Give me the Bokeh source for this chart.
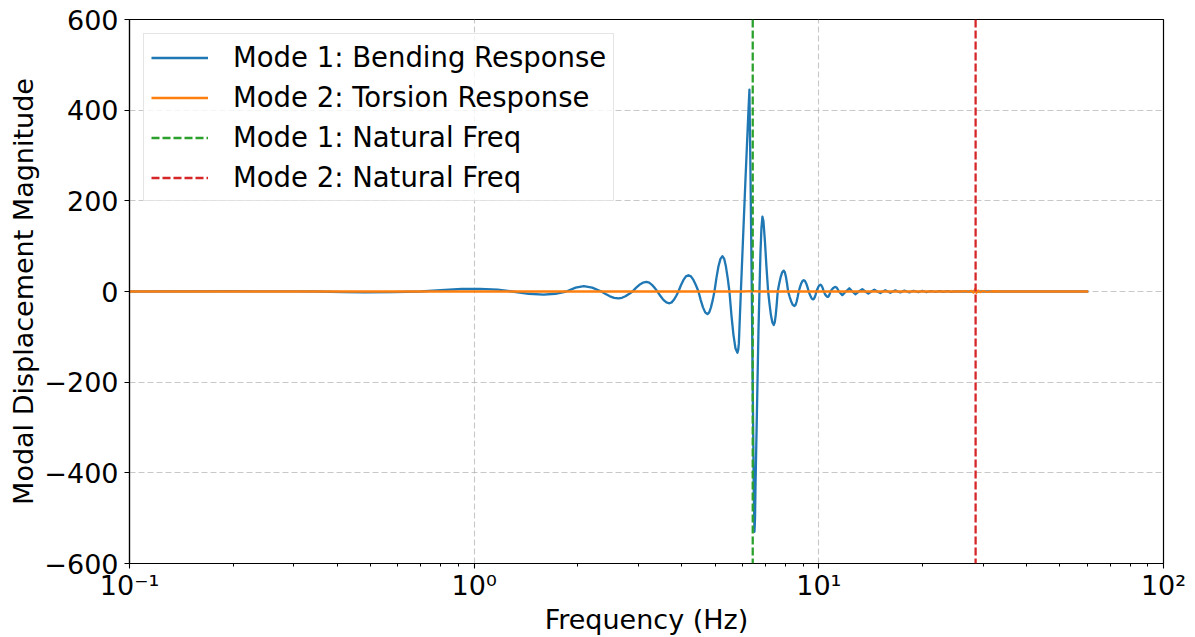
from bokeh.plotting import figure
from bokeh.models import Range1d, FixedTicker, Span, Legend, LegendItem, ColumnDataSource
from bokeh.embed import file_html
from bokeh.resources import INLINE

# ---------------- data ----------------
# Mode 1 bending response: frequency (Hz) and modal displacement
BENDING_FREQ = [
    0.1, 0.2, 0.3, 0.35, 0.42, 0.48, 0.58, 0.70, 0.80, 0.92, 1.04, 1.17, 1.29,
    1.44, 1.59, 1.72, 1.85, 1.97, 2.08, 2.20,
    2.340, 2.407, 2.477, 2.548, 2.622, 2.684, 2.747, 2.812,
    2.879, 2.947, 3.016, 3.087, 3.161, 3.220, 3.279, 3.340,
    3.402, 3.471, 3.540, 3.612, 3.685, 3.741, 3.797, 3.855,
    3.914, 3.980, 4.048, 4.116, 4.185, 4.255, 4.327, 4.400,
    4.475, 4.543, 4.612, 4.681, 4.752, 4.808, 4.864, 4.922,
    4.979, 5.046, 5.113, 5.182, 5.252, 5.314, 5.376, 5.439,
    5.503, 5.577, 5.652, 5.728, 5.806, 5.837, 5.86,
    5.94, 6.12, 6.25, 6.29, 6.33, 6.39, 6.44, 6.475, 6.505, 6.53, 6.55, 6.615, 6.68,
    6.725, 6.770, 6.815, 6.861, 6.907, 6.977, 7.047,
    7.127, 7.194, 7.261, 7.329, 7.398, 7.448, 7.498, 7.548,
    7.598, 7.675, 7.752, 7.830, 7.909, 7.967, 8.026, 8.085,
    8.145, 8.233, 8.319, 8.406, 8.496, 8.559, 8.619, 8.680,
    8.744, 8.816, 8.890, 8.965, 9.040, 9.116, 9.192, 9.269,
    9.347, 9.417, 9.487, 9.557, 9.627, 9.679, 9.734, 9.789,
    9.840, 9.906, 9.972, 10.04, 10.11, 10.164, 10.222, 10.280,
    10.335, 10.404, 10.474, 10.544, 10.615, 10.665, 10.711, 10.758,
    10.808, 10.899, 10.99, 11.082, 11.17, 11.237, 11.301, 11.366,
    11.435, 11.70, 11.98, 12.26, 12.51, 12.76, 13.06, 13.37, 13.64,
    13.92, 14.20, 14.49, 14.78, 15.08, 15.33, 15.59, 15.85, 16.12, 16.39,
    16.67, 16.95, 17.24, 17.47, 17.71, 18.01, 18.31, 18.56, 18.81, 19.12,
    19.45, 19.71, 19.98, 20.25, 20.52, 20.87, 21.22, 21.50, 21.79, 22.09,
    22.38, 22.68, 22.99, 23.30, 23.61, 23.93, 24.25, 24.58, 24.91, 26.0, 60.5,
]
BENDING_DISP = [
    0, 0.5, 0.3, 0, -1.5, -2, -1.5, 0, 3, 5.5, 6, 4, 0,
    -5, -7, -5, 0, 8.5, 12, 8.5,
    0, -5.7, -10.6, -13.9, -15, -13.9, -10.6, -5.7,
    0, 8.0, 14.8, 19.4, 21, 19.4, 14.8, 8.0,
    0, -10, -18.4, -24, -26, -24, -18.4, -10,
    0, 13.8, 25.5, 33.3, 36, 33.3, 25.5, 13.8,
    0, -19, -35, -46, -50, -46, -35, -19,
    0, 30, 55, 72, 78, 72, 55, 30,
    0, -52, -95, -125, -135, -128, -115,
    0, 240, 400, 445, 280, 0, -260, -440, -530, -500, -430, -260, -90,
    0, 85, 140, 165, 155, 110, 55,
    0, -28, -52, -68, -74, -68, -52, -28,
    0, 17.6, 32.5, 42.5, 46, 42.5, 32.5, 17.6,
    0, -12.2, -22.6, -29.6, -32, -29.6, -22.6, -12.2,
    0, 9.6, 17.7, 23.1, 25, 23.1, 17.7, 9.6,
    0, -6.7, -12.4, -16.2, -17.5, -16.2, -12.4, -6.7,
    0, 5.7, 10.6, 13.9, 15, 13.9, 10.6, 5.7,
    0, -4.6, -8.5, -11.1, -12, -11.1, -8.5, -4.6,
    0, 3.8, 7.1, 9.2, 10, 9.2, 7.1, 3.8,
    0, -8, 0, 7, 0, -6, 0, 5, 0,
    -4.5, 0, 4, 0, -3.5, 0, 3, 0, -3, 0,
    2.5, 0, -2, 0, 2, 0, -1.8, 0, 1.5, 0,
    -1.5, 0, 1.2, 0, -1.2, 0, 1, 0, -1, 0,
    0.8, 0, -0.8, 0, 0.6, 0, -0.6, 0, 0.4, 0, 0,
]
# Mode 2 torsion response
TORSION_FREQ = [0.1, 6.0, 6.4, 6.8, 25.76, 26.63, 27.2, 27.7, 28.1, 28.4,
                28.66, 29.04, 29.4, 30.0, 30.8, 31.9, 33.6, 60.5]
TORSION_DISP = [0, 0, 0.8, 0, 0, 0.8, -1, 1.5, -2.5, 5,
                -3, 2, -1.5, 1, -0.7, 0.5, 0, 0]
NATURAL_FREQS = [6.43, 28.5]

SERIES_LABELS = ["Mode 1: Bending Response", "Mode 2: Torsion Response",
                 "Mode 1: Natural Freq", "Mode 2: Natural Freq"]
X_TICKS = [0.1, 1, 10, 100]
X_TICK_LABELS = ["10\u207b\u00b9", "10\u2070", "10\u00b9", "10\u00b2"]
X_MINOR = [m * d for d in (0.1, 1, 10) for m in range(2, 10)]
Y_TICKS = [-600, -400, -200, 0, 200, 400, 600]
Y_TICK_LABELS = [("\u2212" + str(-v)) if v < 0 else str(v) for v in Y_TICKS]
X_LABEL = "Frequency (Hz)"
Y_LABEL = "Modal Displacement Magnitude"

# ---------------- styling ----------------
BLUE, ORANGE, GREEN, RED = "#1f77b4", "#ff7f0e", "#2ca02c", "#d62728"
FONT = "DejaVu Sans"
FS = "27px"
LW = 2.3

p = figure(width=1195, height=637, x_axis_type="log",
           x_range=Range1d(0.1, 100), y_range=Range1d(-600, 600),
           output_backend="svg", toolbar_location=None,
           min_border_left=129, min_border_right=32,
           min_border_top=19, min_border_bottom=72)

p.outline_line_color = "black"
p.outline_line_width = 1.2
p.outline_line_alpha = 1.0
p.background_fill_color = "white"
p.border_fill_color = "white"

# axes
p.xaxis.ticker = FixedTicker(ticks=X_TICKS, minor_ticks=X_MINOR)
p.yaxis.ticker = FixedTicker(ticks=Y_TICKS, minor_ticks=[])
p.xaxis.major_label_overrides = dict(zip(X_TICKS, X_TICK_LABELS))
p.yaxis.major_label_overrides = dict(zip(Y_TICKS, Y_TICK_LABELS))
for ax in (p.xaxis, p.yaxis):
    ax.axis_line_color = "black"
    ax.axis_line_width = 1.2
    ax.major_tick_line_color = "black"
    ax.minor_tick_line_color = "black"
    ax.major_tick_line_width = 1.1
    ax.minor_tick_line_width = 1.0
    ax.major_tick_in = 0
    ax.major_tick_out = 5
    ax.minor_tick_in = 0
    ax.minor_tick_out = 3
    ax.major_label_text_font = FONT
    ax.major_label_text_font_size = FS
    ax.major_label_text_color = "black"
    ax.axis_label_text_font = FONT
    ax.axis_label_text_font_size = FS
    ax.axis_label_text_font_style = "normal"
    ax.axis_label_text_color = "black"
p.xaxis.axis_label = X_LABEL
p.yaxis.axis_label = Y_LABEL
p.xaxis.major_label_standoff = 1
p.xaxis.axis_label_standoff = 0
p.yaxis.major_label_standoff = 6
p.yaxis.axis_label_standoff = 2

# grid
for g in (p.xgrid, p.ygrid):
    g.grid_line_color = "#b0b0b0"
    g.grid_line_alpha = 0.7
    g.grid_line_dash = "6 3"
    g.grid_line_width = 1.1

# data lines
src_b = ColumnDataSource(dict(f=BENDING_FREQ, v=BENDING_DISP))
src_t = ColumnDataSource(dict(f=TORSION_FREQ, v=TORSION_DISP))
r_b = p.line("f", "v", source=src_b, line_color=BLUE, line_width=LW,
             line_join="round")
r_t = p.line("f", "v", source=src_t, line_color=ORANGE, line_width=LW,
             line_join="round")

# natural frequency markers (vertical spans) + legend proxies
legend_renderers = [r_b, r_t]
for f, col in zip(NATURAL_FREQS, (GREEN, RED)):
    p.add_layout(Span(location=f, dimension="height", line_color=col,
                      line_dash="8 3", line_width=LW))
    proxy = p.line(x=[f], y=[float("nan")], line_color=col,
                   line_dash="8 3", line_width=LW)
    legend_renderers.append(proxy)

legend = Legend(items=[LegendItem(label=lab, renderers=[r])
                       for lab, r in zip(SERIES_LABELS, legend_renderers)],
                location="top_left")
legend.margin = 14
legend.padding = 7
legend.spacing = 8
legend.glyph_width = 57
legend.glyph_height = 31
legend.label_height = 31
legend.label_standoff = 25
legend.label_text_font = FONT
legend.label_text_font_size = "27.5px"
legend.label_text_color = "black"
legend.border_line_color = "#cccccc"
legend.border_line_width = 1
legend.background_fill_color = "white"
legend.background_fill_alpha = 0.8
p.add_layout(legend)

open("out.html", "w").write(file_html(p, INLINE))
